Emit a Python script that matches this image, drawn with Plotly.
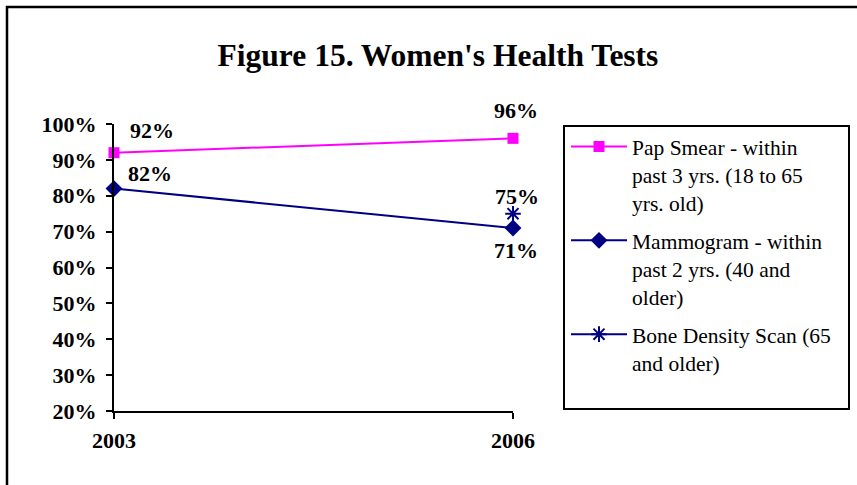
import plotly.graph_objects as go

years = ["2003", "2006"]
pap_smear = [0.92, 0.96]
mammogram = [0.82, 0.71]
bone_density = [None, 0.75]
y_ticks = [0.2, 0.3, 0.4, 0.5, 0.6, 0.7, 0.8, 0.9, 1.0]
y_tick_labels = ["20%", "30%", "40%", "50%", "60%", "70%", "80%", "90%", "100%"]
names = [
    "Pap Smear - within<br>past 3 yrs. (18 to 65<br>yrs. old)",
    "Mammogram - within<br>past 2 yrs. (40 and<br>older)",
    "Bone Density Scan (65<br>and older)",
]

W, H = 857, 485
L, R, T, B = 114, 513, 124, 411

def px(xp):
    return (xp - L) / (R - L)

def py(yp):
    return (B - yp) / (B - T)

SERIF = "Liberation Serif, Times New Roman, serif"
MAG = "#FF00FF"
NAVY = "#000080"
FS = 22

fig = go.Figure()
fig.add_trace(go.Scatter(x=years, y=pap_smear, name=names[0], mode="lines+markers",
                         legendgroup="a", cliponaxis=False,
                         line=dict(color=MAG, width=2),
                         marker=dict(symbol="square", size=11, color=MAG)))
fig.add_trace(go.Scatter(x=years, y=mammogram, name=names[1], mode="lines+markers",
                         legendgroup="b", cliponaxis=False,
                         line=dict(color=NAVY, width=2),
                         marker=dict(symbol="diamond", size=13, color=NAVY)))
fig.add_trace(go.Scatter(x=years, y=bone_density, name=names[2], mode="lines+markers",
                         legendgroup="c", cliponaxis=False,
                         line=dict(color=NAVY, width=2),
                         marker=dict(symbol="asterisk-open", size=13,
                                     line=dict(color=NAVY, width=2))))

# data labels (offsets in pixels)
label_specs = [
    (pap_smear, [(38, 22), (3, 28)]),
    (mammogram, [(36, 15), (3, -22)]),
    (bone_density, [(0, 0), (4, 17)]),
]
annotations = []
for vals, offs in label_specs:
    for i, v in enumerate(vals):
        if v is None:
            continue
        dx, dy = offs[i]
        annotations.append(dict(x=i, y=v, xref="x", yref="y", text=f"{round(v*100)}%",
                                showarrow=False, xshift=dx, yshift=dy,
                                font=dict(family=SERIF, size=FS, color="black", weight="bold")))

shapes = [
    # outer chart border
    dict(type="rect", xref="paper", yref="paper",
         x0=px(7), x1=px(880), y0=py(510), y1=py(7),
         line=dict(color="black", width=2.5), fillcolor="rgba(0,0,0,0)", layer="below"),
    # legend border
    dict(type="rect", xref="paper", yref="paper",
         x0=px(564), x1=px(849), y0=py(409), y1=py(126),
         line=dict(color="black", width=2), fillcolor="rgba(0,0,0,0)"),
]

fig.update_layout(
    width=W, height=H,
    margin=dict(l=L, r=W - R, t=T, b=H - B, pad=0),
    paper_bgcolor="white", plot_bgcolor="white",
    title=dict(text="<b>Figure 15. Women's Health Tests</b>", x=438 / W, xref="container",
               xanchor="center", y=1 - 55 / H, yref="container", yanchor="middle",
               font=dict(family=SERIF, size=31.5, color="black")),
    xaxis=dict(type="category", range=[0, 1], showgrid=False, zeroline=False,
               showline=True, linecolor="black", linewidth=2,
               ticks="outside", ticklen=6, tickwidth=2, tickcolor="black",
               ticklabelstandoff=3,
               tickfont=dict(family=SERIF, size=FS, color="black", weight="bold")),
    yaxis=dict(range=[0.2, 1.0], tickvals=y_ticks, ticktext=y_tick_labels,
               showgrid=False, zeroline=False,
               showline=True, linecolor="black", linewidth=2,
               ticks="outside", ticklen=6, tickwidth=2, tickcolor="black",
               ticklabelstandoff=5,
               tickfont=dict(family=SERIF, size=FS, color="black", weight="bold")),
    legend=dict(x=px(566), y=py(126), xanchor="left", yanchor="top",
                bgcolor="rgba(0,0,0,0)", borderwidth=0, valign="top",
                itemwidth=56, traceorder="grouped", tracegroupgap=7,
                font=dict(family=SERIF, size=21.5, color="black")),
    showlegend=True,
    annotations=annotations,
    shapes=shapes,
)

fig.write_html("out.html", config={"displayModeBar": False},
               post_script="document.body.style.margin='0';document.body.style.overflow='hidden';")
